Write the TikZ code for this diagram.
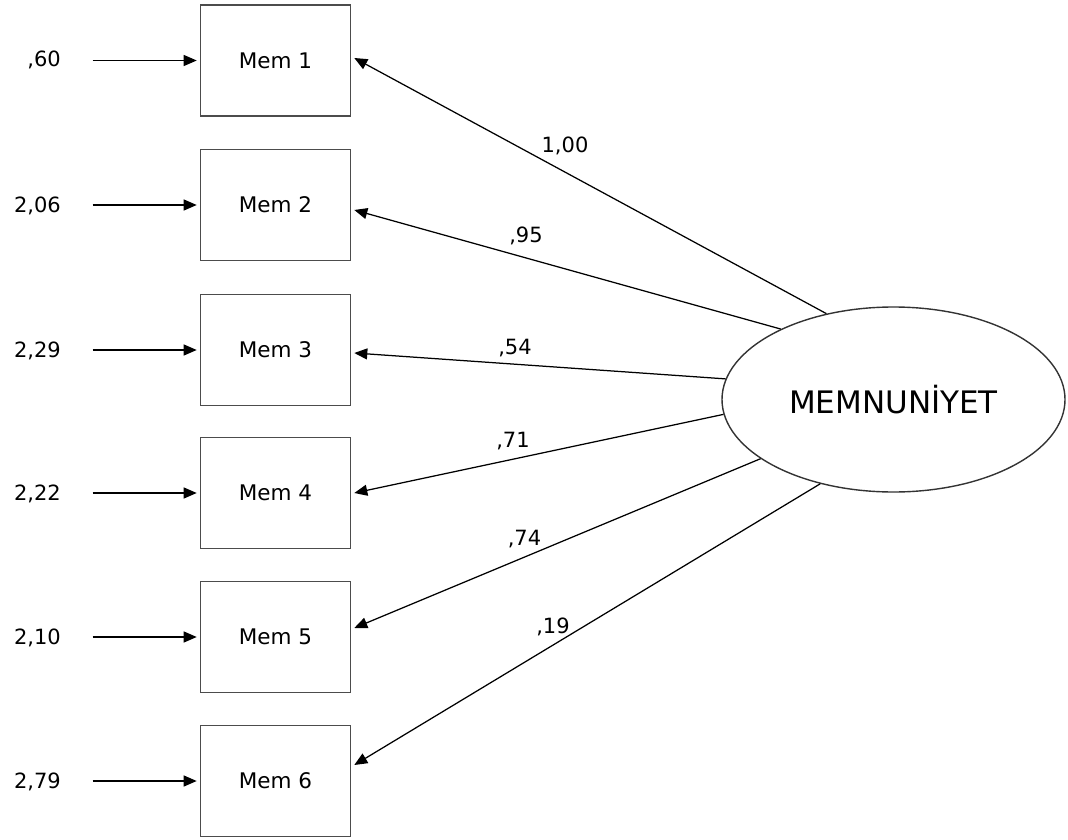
\documentclass[tikz,border=0pt]{standalone}
\usepackage{fontspec}
\setmainfont{DejaVu Sans}
\usetikzlibrary{arrows.meta,shapes.geometric,calc}

\tikzset{
  itembox/.style={draw=black!70, line width=1.6pt, fill=white,
    minimum width=150pt, minimum height=111pt, inner sep=0pt,
    font=\fontsize{21.5}{26}\selectfont},
  latent/.style={ellipse, draw=black!80, line width=1.4pt,
    minimum width=343pt, minimum height=185pt, inner sep=0pt,
    font=\fontsize{31}{37}\selectfont},
  errlabel/.style={anchor=base east, inner sep=0pt,
    font=\fontsize{21}{25}\selectfont},
  loadlabel/.style={anchor=base, inner sep=0pt,
    font=\fontsize{21}{25}\selectfont},
  conn/.style={draw=black, line width=1.25pt,
    -{Triangle[length=13pt,width=11pt]}}
}

\begin{document}
\begin{tikzpicture}[x=1pt,y=-1pt]
  \useasboundingbox (0,0) rectangle (1068,840);

  % observed indicators
  \node[itembox] (m1) at (275.5,60.5) {Mem 1};
  \node[itembox] (m2) at (275.5,205) {Mem 2};
  \node[itembox] (m3) at (275.5,350) {Mem 3};
  \node[itembox] (m4) at (275.5,493) {Mem 4};
  \node[itembox] (m5) at (275.5,637) {Mem 5};
  \node[itembox] (m6) at (275.5,781) {Mem 6};

  % latent factor
  \node[latent] (lat) at (893.5,399.5) {MEMNUNİYET};

  % error variances
  \node[errlabel] (e1) at (61,67) {,60};
  \node[errlabel] (e2) at (61,212) {2,06};
  \node[errlabel] (e3) at (61,357) {2,29};
  \node[errlabel] (e4) at (61,500) {2,22};
  \node[errlabel] (e5) at (61,644) {2,10};
  \node[errlabel] (e6) at (61,788) {2,79};

  % error arrows into each indicator
  \foreach \i in {1,...,6} {
    \coordinate (s\i) at ($(m\i.west)+(-107,0)$);
    \draw[conn, shorten >=3pt] (s\i) -- (m\i.west);
  }

  % factor loadings
  \draw[conn] (lat.128.6) -- ($(m1.east)+(3,-2.5)$);
  \draw[conn] (lat.148.6) -- ($(m2.east)+(3,5)$);
  \draw[conn] (lat.173.8) -- ($(m3.east)+(3,3)$);
  \draw[conn] (lat.185.5) -- ($(m4.east)+(3,0)$);
  \draw[conn] (lat.204.2) -- ($(m5.east)+(3,-9)$);
  \draw[conn] (lat.229.5) -- ($(m6.east)+(3,-16)$);

  \node[loadlabel] (l1) at (565,153) {1,00};
  \node[loadlabel] (l2) at (526,242) {,95};
  \node[loadlabel] (l3) at (515,354) {,54};
  \node[loadlabel] (l4) at (513,447) {,71};
  \node[loadlabel] (l5) at (524.5,545) {,74};
  \node[loadlabel] (l6) at (553,633) {,19};
\end{tikzpicture}
\end{document}
